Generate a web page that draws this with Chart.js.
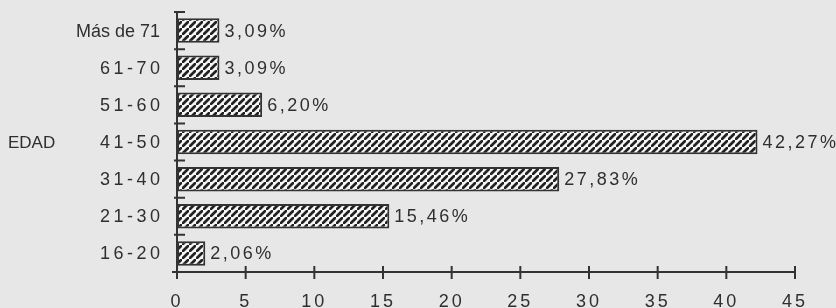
<!DOCTYPE html>
<html>
<head>
<meta charset="utf-8">
<script src="https://cdn.jsdelivr.net/npm/chart.js@4/dist/chart.umd.min.js"></script>
<style>
    html, body { margin: 0; padding: 0; background: #e7e7e7; }
    #wrap { width: 836px; height: 308px; }
</style>
</head>
<body>
<div id="wrap"><canvas id="edadChart" width="836" height="308"></canvas></div>
<script>
const categories = ['Más de 71', '61-70', '51-60', '41-50', '31-40', '21-30', '16-20'];
const percentages = [3.09, 3.09, 6.20, 42.27, 27.83, 15.46, 2.06];
const xTicks = [0, 5, 10, 15, 20, 25, 30, 35, 40, 45];
const axisTitle = 'EDAD';

const textColor = '#2f2f2f';
const lineColor = '#333333';
const fontFamily = '"Liberation Sans", Arial, sans-serif';

// hatch tile: dark diagonal stripes on white
function makeHatch() {
    const s = 7;
    const tile = document.createElement('canvas');
    tile.width = s;
    tile.height = s;
    const t = tile.getContext('2d');
    t.fillStyle = '#f6f6f6';
    t.fillRect(0, 0, s, s);
    t.strokeStyle = '#222';
    t.lineWidth = 2.7;
    t.beginPath();
    t.moveTo(-1, s + 1); t.lineTo(s + 1, -1);
    t.moveTo(-s - 1, 1); t.lineTo(1, -s - 1);
    t.moveTo(s - 1, 2 * s + 1); t.lineTo(2 * s + 1, s - 1);
    t.stroke();
    return t.createPattern(tile, 'repeat');
}

function fmtPct(v) {
    return v.toFixed(2).replace('.', ',') + '%';
}

function spacedText(ctx, text, x, y, align, spacing) {
    ctx.save();
    ctx.letterSpacing = spacing + 'px';
    ctx.textAlign = align;
    let dx = 0;
    if (align === 'right') dx = spacing;
    if (align === 'center') dx = spacing / 2;
    ctx.fillText(text, x + dx, y);
    ctx.restore();
}

const axesPlugin = {
    id: 'axesPlugin',
    beforeDraw(chart) {
        // wide digit spacing for the x tick labels drawn by chart.js
        chart.ctx.letterSpacing = '3px';
    },
    afterDraw(chart) {
        const ctx = chart.ctx;
        const area = chart.chartArea;
        const x = chart.scales.x;
        const y = chart.scales.y;
        ctx.save();
        ctx.strokeStyle = lineColor;
        ctx.lineWidth = 2;

        // y axis line + ticks at category boundaries
        ctx.beginPath();
        ctx.moveTo(area.left, area.top);
        ctx.lineTo(area.left, area.bottom);
        const half = (y.getPixelForValue(1) - y.getPixelForValue(0)) / 2;
        for (let i = 0; i < categories.length; i++) {
            const by = y.getPixelForValue(i) - half;
            ctx.moveTo(area.left - 3, by);
            ctx.lineTo(area.left + 8, by);
        }
        // x axis line + ticks crossing it
        ctx.moveTo(area.left - 5, area.bottom);
        ctx.lineTo(area.right, area.bottom);
        xTicks.forEach(v => {
            const px = x.getPixelForValue(v);
            ctx.moveTo(px, area.bottom - 6);
            ctx.lineTo(px, area.bottom + 7);
        });
        ctx.stroke();

        // category labels
        ctx.fillStyle = textColor;
        ctx.textBaseline = 'middle';
        ctx.font = '18px ' + fontFamily;
        categories.forEach((c, i) => {
            const digits = /^\d/.test(c);
            spacedText(ctx, c, area.left - 17, y.getPixelForValue(i) + 1, 'right', digits ? 3.5 : 0);
        });
        ctx.font = '17px ' + fontFamily;
        spacedText(ctx, axisTitle, 8, y.getPixelForValue(3) + 1, 'left', 0);

        // value labels
        ctx.font = '18px ' + fontFamily;
        const meta = chart.getDatasetMeta(0);
        meta.data.forEach((bar, i) => {
            spacedText(ctx, fmtPct(percentages[i]), bar.x + 5, bar.y + 1, 'left', 2.5);
        });
        ctx.restore();
    }
};

const ctx = document.getElementById('edadChart').getContext('2d');
new Chart(ctx, {
    type: 'bar',
    data: {
        labels: categories,
        datasets: [{
            data: percentages,
            backgroundColor: makeHatch(),
            borderColor: lineColor,
            borderWidth: 2,
            borderSkipped: false,
            barPercentage: 0.66,
            categoryPercentage: 1
        }]
    },
    options: {
        indexAxis: 'y',
        responsive: false,
        animation: false,
        layout: { padding: { top: 12, right: 41, left: 0, bottom: 0 } },
        plugins: {
            legend: { display: false },
            tooltip: { enabled: false }
        },
        scales: {
            x: {
                type: 'linear',
                min: 0,
                max: 45,
                grid: { display: false, drawTicks: false },
                border: { display: false },
                ticks: {
                    stepSize: 5,
                    padding: 19,
                    color: textColor,
                    font: { family: fontFamily, size: 18 }
                },
                afterFit(scale) { scale.height = 36; }
            },
            y: {
                grid: { display: false, drawTicks: false },
                border: { display: false },
                ticks: { display: false },
                afterFit(scale) { scale.width = 177; }
            }
        }
    },
    plugins: [axesPlugin]
});
</script>
</body>
</html>
